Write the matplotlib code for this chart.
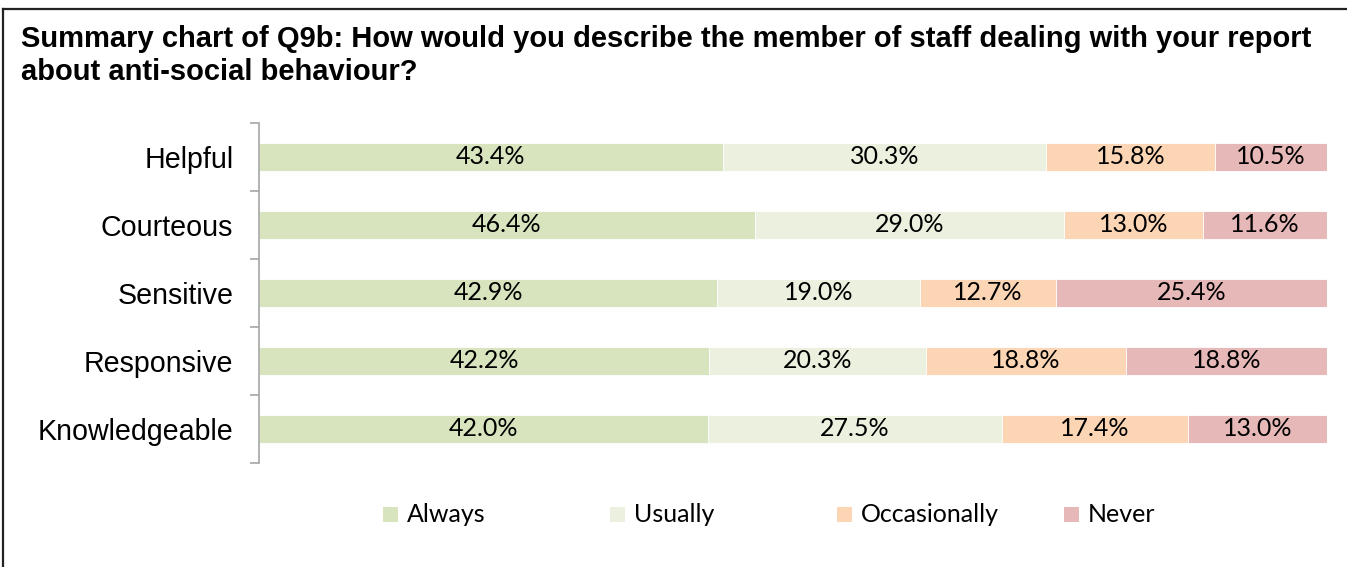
import matplotlib
matplotlib.use("Agg")
import matplotlib.pyplot as plt
from matplotlib.patches import Rectangle
from matplotlib.lines import Line2D
import numpy as np

categories = ["Helpful", "Courteous", "Sensitive", "Responsive", "Knowledgeable"]
series_names = ["Always", "Usually", "Occasionally", "Never"]
always = [43.4, 46.4, 42.9, 42.2, 42.0]
usually = [30.3, 29.0, 19.0, 20.3, 27.5]
occasionally = [15.8, 13.0, 12.7, 18.8, 17.4]
never = [10.5, 11.6, 25.4, 18.8, 13.0]
colors = ["#D7E4BD", "#EBF1DE", "#FCD5B5", "#E6B9B8"]

title_1 = "Summary chart of Q9b: How would you describe the member of staff dealing with your report"
title_2 = "about anti-social behaviour?"

W, H = 1347, 567
fig = plt.figure(figsize=(W / 100, H / 100), dpi=100)

# frame border (only top and left visible in the crop)
fig.add_artist(Line2D([2.5 / W, 2.5 / W], [0, 1 - 9 / H], transform=fig.transFigure, color="#222222", lw=1.6))
fig.add_artist(Line2D([2.5 / W, 1], [1 - 9 / H, 1 - 9 / H], transform=fig.transFigure, color="#222222", lw=1.6))

fig.text(21 / W, 1 - 47 / H, title_1, family="Liberation Sans", weight="bold", fontsize=21, va="baseline")
fig.text(21 / W, 1 - 80 / H, title_2, family="Liberation Sans", weight="bold", fontsize=21, va="baseline")

ax = fig.add_axes([259 / W, 1 - 463 / H, (1327 - 259) / W, (463 - 123) / H])

data = np.array([always, usually, occasionally, never])
totals = data.sum(axis=0)
shares = data / totals * 100
y = np.arange(len(categories))
left = np.zeros(len(categories))
for i, name in enumerate(series_names):
    ax.barh(y, shares[i], left=left, height=0.4, color=colors[i], edgecolor="white", linewidth=0.6)
    for j in range(len(categories)):
        ax.text(left[j] + shares[i][j] / 2, y[j], f"{data[i][j]:.1f}%", ha="center", va="center",
                family="Lato", fontsize=18, color="black")
    left += shares[i]

ax.set_xlim(0, 100)
ax.set_ylim(len(categories) - 0.5, -0.5)
ax.set_xticks([])
ax.set_yticks(y)
ax.set_yticklabels(categories, family="Liberation Sans", fontsize=20.6)
ax.set_yticks(np.arange(len(categories) + 1) - 0.5, minor=True)
ax.tick_params(axis="y", which="major", length=0, pad=18.5)
ax.tick_params(axis="y", which="minor", length=6.5, width=1.2, color="#A6A6A6")
for s in ["top", "right", "bottom"]:
    ax.spines[s].set_visible(False)
ax.spines["left"].set_color("#A6A6A6")
ax.spines["left"].set_linewidth(1.2)

# legend drawn as equal-width columns like the spreadsheet one
for i, name in enumerate(series_names):
    x0 = 383 + i * 227
    fig.add_artist(Rectangle((x0 / W, 1 - 522 / H), 15 / W, 15 / H, transform=fig.transFigure,
                             facecolor=colors[i], edgecolor="none"))
    fig.text((x0 + 24) / W, 1 - 515 / H, name, family="Lato", fontsize=18, va="center", ha="left")

fig.savefig("out.png", dpi=100, facecolor="white")
